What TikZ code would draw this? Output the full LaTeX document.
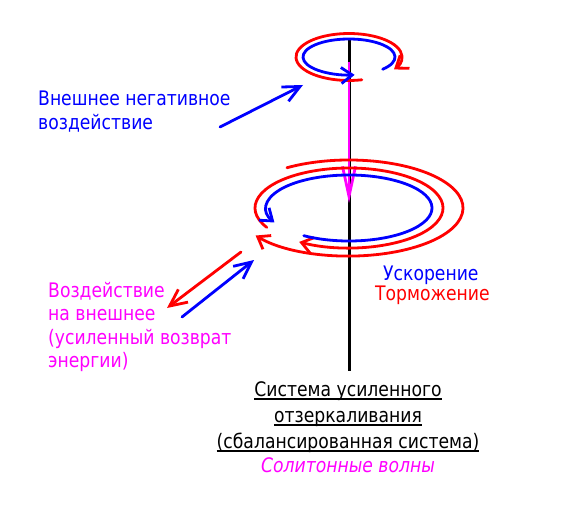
\documentclass[tikz,border=0pt]{standalone}
\usepackage{fontspec}
\setmainfont{DejaVu Sans}[FakeStretch=0.86]
\usetikzlibrary{arrows.meta}
\definecolor{ringred}{RGB}{255,0,0}
\definecolor{ringblue}{RGB}{0,0,255}
\definecolor{flowpink}{RGB}{255,0,255}
\newlength{\ulwidth}
\newcommand{\ulined}[1]{\settowidth{\ulwidth}{#1}\rlap{\rule[-3.5pt]{\ulwidth}{1.7pt}}#1}

\begin{document}
\begin{tikzpicture}[x=1pt,y=-1pt,
        ring/.style={line width=2.8pt, line cap=round, -{Straight Barb[length=11pt,width=16pt]}},
        push/.style={line width=2.8pt, line cap=round, -{Straight Barb[length=17pt,width=16pt]}},
        caption/.style={font=\fontsize{20}{23.5}\selectfont, inner sep=0pt, align=left, anchor=north west}
    ]
        \useasboundingbox (0,0) rectangle (577,510);

        % Axis
        \coordinate (axis top) at (349,38);
        \coordinate (axis bot) at (349,371);
        \coordinate (flow start) at (349,62);
        \coordinate (flow end) at (349,203);
        \draw[line width=3pt] (axis top) -- (axis bot);
        \draw[line width=2.8pt, flowpink, -{Straight Barb[length=30pt,width=13pt]}] (flow start) -- (flow end);

        % Small rings
        \coordinate (small c) at (349,57);
        \draw[ring, ringred] (small c) ++(76:53 and 23.5) arc[start angle=76, end angle=392, x radius=53, y radius=23.5];
        \draw[ring, ringblue] (small c) ++(43:46 and 18) arc[start angle=43, end angle=-277, x radius=46, y radius=18];

        % Large rings
        \coordinate (big c) at (349,208);
        \draw[ring, ringred] (big c) ++(237:114 and 48) arc[start angle=237, end angle=505, x radius=114, y radius=48];
        \draw[ring, ringred] (big c) ++(151:94 and 40) arc[start angle=151, end angle=482, x radius=94, y radius=40];
        \draw[ring, ringblue] (big c) ++(123:83 and 33) arc[start angle=123, end angle=-206, x radius=83, y radius=33];

        % Labels
        \node[caption, text=ringblue] (neg) at (38,91) {Внешнее негативное\\воздействие};
        \node[caption, text=ringblue] (accel) at (383,266) {Ускорение};
        \node[caption, text=ringred] (brake) at (375,286) {Торможение};
        \node[caption, text=flowpink] (back) at (48,282) {Воздействие\\на внешнее\\(усиленный возврат\\энергии)};
        \node[caption, align=center, anchor=north, font=\fontsize{20}{26}\selectfont] (system) at (348,381)
            {\ulined{Система усиленного}\\\ulined{отзеркаливания}\\\ulined{(сбалансированная система)}};
        \node[caption, anchor=north, text=flowpink, font=\fontsize{20}{23.5}\selectfont\itshape] (soliton) at (348,457) {Солитонные волны};

        % Arrows
        \coordinate (neg tail) at (220,127);
        \coordinate (neg head) at (303,85);
        \coordinate (out tail) at (241,252);
        \coordinate (out head) at (167,308);
        \coordinate (in tail) at (182,317);
        \coordinate (in head) at (254,260);
        \draw[push, ringblue] (neg tail) -- (neg head);
        \draw[push, ringred] (out tail) -- (out head);
        \draw[push, ringblue] (in tail) -- (in head);
    \end{tikzpicture}
\end{document}
